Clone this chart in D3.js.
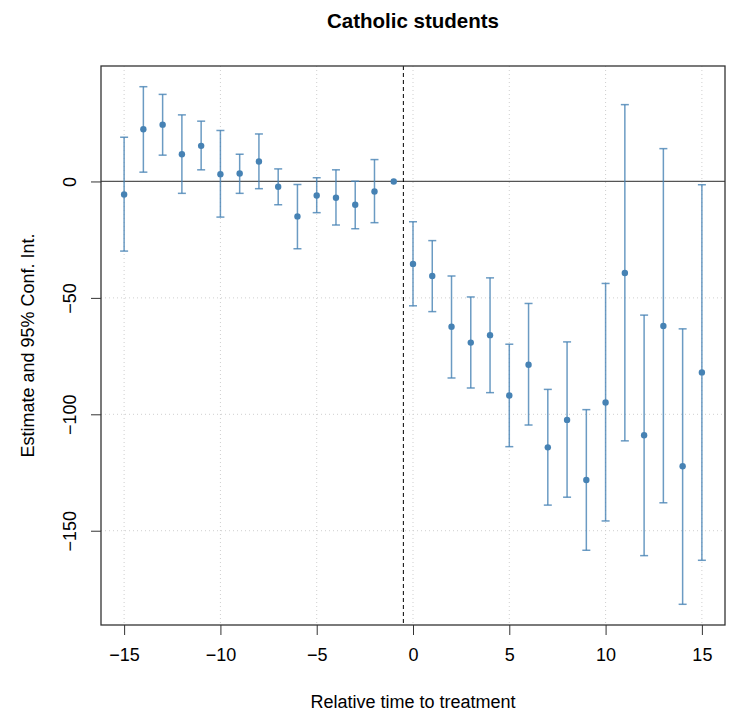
<!DOCTYPE html>
<html>
<head>
<meta charset="utf-8">
<script src="https://cdn.jsdelivr.net/npm/d3@7"></script>
<style>
  body { margin: 0; background: #fff; }
  svg text { font-family: "Liberation Sans", Arial, sans-serif; fill: #000; }
</style>
</head>
<body>
<div id="chart"></div>
<script>
const width = 729;
const height = 713;

// relative time to treatment
const times = [-15, -14, -13, -12, -11, -10, -9, -8, -7, -6, -5, -4, -3, -2, -1,
  0, 1, 2, 3, 4, 5, 6, 7, 8, 9, 10, 11, 12, 13, 14, 15];

const estimates = [-5.6, 22.4, 24.4, 11.7, 15.3, 3.1, 3.4, 8.6, -2.3, -15.0, -6.0, -7.0, -10.0, -4.3, 0,
  -35.4, -40.6, -62.4, -69.2, -66.0, -91.9, -78.7, -114.2, -102.4, -128.2, -94.9, -39.3, -109.0, -62.1, -122.3, -82.0];

const upper = [19.0, 40.7, 37.4, 28.6, 25.9, 21.9, 11.7, 20.4, 5.4, -1.3, 1.6, 5.0, 0.1, 9.4, null,
  -17.3, -25.4, -40.6, -49.6, -41.4, -69.9, -52.4, -89.3, -68.9, -98.0, -43.8, 33.0, -57.4, 14.1, -63.3, -1.4];

const lower = [-29.9, 4.0, 11.3, -5.1, 5.0, -15.3, -5.1, -3.1, -10.0, -28.9, -13.4, -18.7, -20.3, -17.7, null,
  -53.4, -55.9, -84.4, -88.7, -90.7, -113.9, -104.6, -139.0, -135.6, -158.4, -145.8, -111.4, -160.7, -138.0, -181.6, -162.7];

const xTicks = [-15, -10, -5, 0, 5, 10, 15];
const yTicks = [0, -50, -100, -150];

const box = { left: 101, right: 725, top: 66, bottom: 625 };
const col = "steelblue";

const data = times.map((t, i) => ({ t, est: estimates[i], lo: lower[i], hi: upper[i] }));

const svg = d3.select("#chart").append("svg")
  .attr("width", width)
  .attr("height", height);

// R style 4% padding
const xPad = (d3.max(times) - d3.min(times)) * 0.04;
const x = d3.scaleLinear()
  .domain([d3.min(times) - xPad, d3.max(times) + xPad])
  .range([box.left, box.right]);

const yMax = d3.max(upper), yMin = d3.min(lower.filter(v => v !== null));
const yPad = (yMax - yMin) * 0.04;
const y = d3.scaleLinear()
  .domain([yMin - yPad, yMax + yPad])
  .range([box.bottom, box.top]);

// grid
svg.append("g").selectAll("line")
  .data(xTicks).enter().append("line")
  .attr("x1", d => x(d)).attr("x2", d => x(d))
  .attr("y1", box.top).attr("y2", box.bottom)
  .attr("stroke", "#cfcfcf").attr("stroke-dasharray", "1,3");

svg.append("g").selectAll("line")
  .data(yTicks).enter().append("line")
  .attr("x1", box.left).attr("x2", box.right)
  .attr("y1", d => y(d)).attr("y2", d => y(d))
  .attr("stroke", "#cfcfcf").attr("stroke-dasharray", "1,3");

// zero reference
svg.append("line")
  .attr("x1", box.left).attr("x2", box.right)
  .attr("y1", y(0)).attr("y2", y(0))
  .attr("stroke", "#555").attr("stroke-width", 1.3);

// treatment line
svg.append("line")
  .attr("x1", x(-0.5)).attr("x2", x(-0.5))
  .attr("y1", box.top).attr("y2", box.bottom)
  .attr("stroke", "#000").attr("stroke-dasharray", "4,3");

// confidence intervals
const ci = svg.append("g")
  .attr("stroke", col)
  .attr("stroke-opacity", 0.8)
  .attr("stroke-width", 1.5);

const withCi = data.filter(d => d.lo !== null);

ci.selectAll("line.bar")
  .data(withCi).enter().append("line")
  .attr("class", "bar")
  .attr("x1", d => x(d.t)).attr("x2", d => x(d.t))
  .attr("y1", d => y(d.lo)).attr("y2", d => y(d.hi));

ci.selectAll("line.capHi")
  .data(withCi).enter().append("line")
  .attr("class", "capHi")
  .attr("x1", d => x(d.t) - 4).attr("x2", d => x(d.t) + 4)
  .attr("y1", d => y(d.hi)).attr("y2", d => y(d.hi));

ci.selectAll("line.capLo")
  .data(withCi).enter().append("line")
  .attr("class", "capLo")
  .attr("x1", d => x(d.t) - 4).attr("x2", d => x(d.t) + 4)
  .attr("y1", d => y(d.lo)).attr("y2", d => y(d.lo));

// estimates
svg.append("g").selectAll("circle")
  .data(data).enter().append("circle")
  .attr("cx", d => x(d.t))
  .attr("cy", d => y(d.est))
  .attr("r", 3.2)
  .attr("fill", col);

// axes
const xAxis = svg.append("g")
  .attr("transform", `translate(0,${box.bottom})`)
  .call(d3.axisBottom(x).tickValues(xTicks).tickSize(10).tickPadding(13));
xAxis.select(".domain").remove();

const yAxis = svg.append("g")
  .attr("transform", `translate(${box.left},0)`)
  .call(d3.axisLeft(y).tickValues(yTicks).tickSize(10));
yAxis.select(".domain").remove();

// R-style vertical tick labels on the y axis
yAxis.selectAll(".tick text").remove();
yAxis.selectAll(".tick").append("text")
  .attr("transform", "translate(-31,0) rotate(-90)")
  .attr("text-anchor", "middle")
  .attr("dy", "0.35em")
  .text(d => d3.format("d")(d));

[xAxis, yAxis].forEach(a => {
  a.selectAll("line").attr("stroke", "#333");
  a.selectAll("text").style("font-size", "18px").attr("fill", "#000");
});

// frame
svg.append("rect")
  .attr("x", box.left).attr("y", box.top)
  .attr("width", box.right - box.left).attr("height", box.bottom - box.top)
  .attr("fill", "none").attr("stroke", "#333").attr("stroke-width", 1.3);

// titles
svg.append("text")
  .attr("x", (box.left + box.right) / 2).attr("y", 28)
  .attr("text-anchor", "middle")
  .style("font-size", "20.5px").style("font-weight", "bold")
  .text("Catholic students");

svg.append("text")
  .attr("x", (box.left + box.right) / 2).attr("y", 708)
  .attr("text-anchor", "middle")
  .style("font-size", "18px")
  .text("Relative time to treatment");

svg.append("text")
  .attr("transform", `translate(34,${(box.top + box.bottom) / 2}) rotate(-90)`)
  .attr("text-anchor", "middle")
  .style("font-size", "18px")
  .text("Estimate and 95% Conf. Int.");
</script>
</body>
</html>
